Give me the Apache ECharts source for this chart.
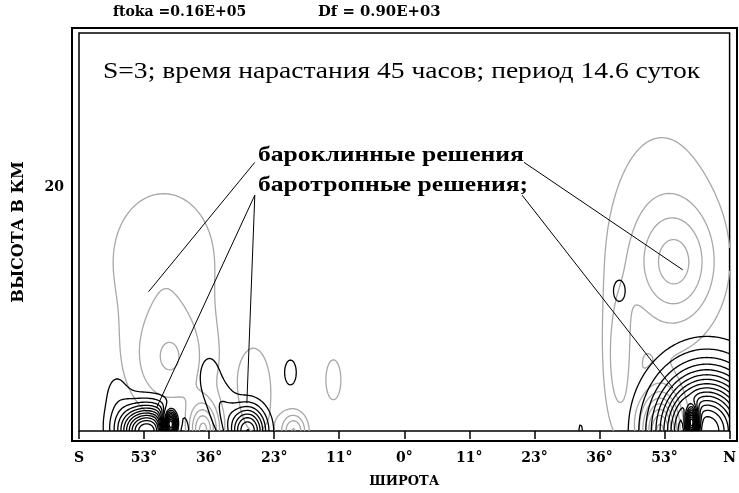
<!DOCTYPE html>
<html>
<head>
<meta charset="utf-8">
<script src="https://cdn.jsdelivr.net/npm/echarts@6/dist/echarts.min.js"></script>
<style>
  html, body { margin: 0; padding: 0; background: #fff; }
  #chart { width: 739px; height: 493px; }
</style>
</head>
<body>
<div id="chart"></div>
<script>
// Latitude axis runs in sin(latitude) from -1 (S) to 1 (N); ticks every 0.2
const latTickLabels = ['S', '53°', '36°', '23°', '11°', '0°', '11°', '23°', '36°', '53°', 'N'];
const heightTicks = [20];

// Streamfunction components: [sin(lat), height km, amplitude, width in sin(lat), width in km]
// Barotropic solution (black isolines)
const barotropicComponents = [
  [-0.792, 0.0, 12, 0.082, 2.0],
  [-0.884, 3.1, 1.2, 0.050, 2.5],
  [-0.720, 0.5, -15, 0.022, 1.1],
  [-0.481, 0.0, 8, 0.055, 2.0],
  [-0.600, 4.5, 1.5, 0.040, 2.2],
  [-0.560, 2.0, 1.6, 0.045, 2.2],
  [-0.350, 4.8, 1.3, 0.035, 2.0],
  [0.661, 11.5, 1.3, 0.035, 1.7],
  [0.930, 0.0, 16, 0.145, 4.66],
  [0.884, 0.65, -14, 0.018, 1.2],
  [0.542, 0.0, 1.5, 0.008, 0.8]
];
// Baroclinic solution (grey isolines)
const baroclinicComponents = [
  [-0.740, 14.1, 1.8, 0.200, 7.0],
  [-0.720, 5.5, 2.7, 0.130, 4.5],
  [-0.618, 0.0, 6, 0.045, 2.2],
  [-0.340, 0.0, 4, 0.040, 1.5],
  [-0.456, 3.1, 1.5, 0.070, 5.0],
  [-0.218, 4.2, 1.3, 0.045, 3.2],
  [0.835, 13.7, 3.0, 0.120, 4.5],
  [0.790, 16.0, 1.6, 0.210, 11.6],
  [0.660, 5.5, 2.2, 0.045, 6.0],
  [0.786, 0.0, 8, 0.060, 3.0]
];
// Isoline step and count on each side of zero
const isolineStep = 1;
const isolineCount = 20;

// Leader lines from the annotations, in (sin(lat), km)
const baroclinicLeaders = [
  [[-0.4595, 22.04], [-0.786, 11.43]],
  [[0.368, 22.04], [0.856, 13.22]]
];
const barotropicLeaders = [
  [[-0.4595, 19.35], [-0.762, 1.88]],
  [[-0.4595, 19.35], [-0.484, 2.29]],
  [[0.362, 19.35], [0.826, 3.51]]
];

const heightMax = 32.65;

// ---- sampling grid ----
const xs = [], ys = [];
for (let i = 0; i <= 400; i++) xs.push(-1 + i * 0.005);
for (let j = 0; j * 0.1 <= heightMax + 1e-9; j++) ys.push(j * 0.1);

function buildField(components) {
  const nx = xs.length, ny = ys.length;
  const f = new Float64Array(nx * ny);
  for (const [cx, cy, a, sx, sy] of components) {
    for (let j = 0; j < ny; j++) {
      const dy = (ys[j] - cy) / sy;
      const ey = dy * dy;
      if (ey > 30) continue;
      for (let i = 0; i < nx; i++) {
        const dx = (xs[i] - cx) / sx;
        const e = dx * dx + ey;
        if (e < 30) f[j * nx + i] += a * Math.exp(-e);
      }
    }
  }
  return f;
}

// marching squares: segments per cell keyed by crossed grid edge
const caseTable = {
  1: [['L', 'B']], 2: [['B', 'R']], 3: [['L', 'R']], 4: [['R', 'T']],
  5: [['L', 'B'], ['R', 'T']], 6: [['B', 'T']], 7: [['L', 'T']], 8: [['T', 'L']],
  9: [['B', 'T']], 10: [['B', 'R'], ['T', 'L']], 11: [['R', 'T']], 12: [['L', 'R']],
  13: [['B', 'R']], 14: [['L', 'B']]
};

function isolines(f, level) {
  const nx = xs.length, ny = ys.length;
  const pts = new Map();
  const adj = new Map();
  const link = (a, b) => {
    if (!adj.has(a)) adj.set(a, []);
    if (!adj.has(b)) adj.set(b, []);
    adj.get(a).push(b);
    adj.get(b).push(a);
  };
  const hEdge = (i, j) => {
    const k = (j * nx + i) * 2;
    if (!pts.has(k)) {
      const v1 = f[j * nx + i], v2 = f[j * nx + i + 1];
      const t = (level - v1) / (v2 - v1);
      pts.set(k, [xs[i] + t * (xs[i + 1] - xs[i]), ys[j]]);
    }
    return k;
  };
  const vEdge = (i, j) => {
    const k = (j * nx + i) * 2 + 1;
    if (!pts.has(k)) {
      const v1 = f[j * nx + i], v2 = f[(j + 1) * nx + i];
      const t = (level - v1) / (v2 - v1);
      pts.set(k, [xs[i], ys[j] + t * (ys[j + 1] - ys[j])]);
    }
    return k;
  };
  for (let j = 0; j < ny - 1; j++) {
    for (let i = 0; i < nx - 1; i++) {
      const v0 = f[j * nx + i], v1 = f[j * nx + i + 1];
      const v2 = f[(j + 1) * nx + i + 1], v3 = f[(j + 1) * nx + i];
      const c = (v0 > level ? 1 : 0) | (v1 > level ? 2 : 0) | (v2 > level ? 4 : 0) | (v3 > level ? 8 : 0);
      if (c === 0 || c === 15) continue;
      const edge = {
        B: () => hEdge(i, j), T: () => hEdge(i, j + 1),
        L: () => vEdge(i, j), R: () => vEdge(i + 1, j)
      };
      for (const [a, b] of caseTable[c]) link(edge[a](), edge[b]());
    }
  }
  const visited = new Set();
  const lines = [];
  const walk = (start) => {
    const line = [pts.get(start)];
    visited.add(start);
    let cur = start;
    for (;;) {
      const nb = adj.get(cur);
      let next = null;
      for (const n of nb) if (!visited.has(n)) { next = n; break; }
      if (next === null) {
        if (nb.includes(start) && line.length > 2) line.push(pts.get(start));
        break;
      }
      visited.add(next);
      line.push(pts.get(next));
      cur = next;
    }
    return line;
  };
  for (const [k, nb] of adj) if (nb.length === 1 && !visited.has(k)) lines.push(walk(k));
  for (const k of adj.keys()) if (!visited.has(k)) lines.push(walk(k));
  return lines;
}

function isolineData(components) {
  const f = buildField(components);
  const out = [];
  for (let n = 1; n <= isolineCount; n++) {
    for (const lv of [n * isolineStep, -n * isolineStep]) {
      for (const l of isolines(f, lv)) if (l.length > 1) out.push({ coords: l });
    }
  }
  return out;
}

const baroclinicLines = isolineData(baroclinicComponents);
const barotropicLines = isolineData(barotropicComponents);

const chart = echarts.init(document.getElementById('chart'), null, { renderer: 'canvas' });

const tickFont = { fontFamily: 'DejaVu Serif', fontWeight: 'bold', fontSize: 14, color: '#000' };

chart.setOption({
  animation: false,
  backgroundColor: '#fff',
  grid: {
    left: 79, right: 4, top: 33, bottom: 60,
    show: true, borderColor: '#000', borderWidth: 1.5, backgroundColor: 'transparent'
  },
  xAxis: {
    type: 'value', min: -1, max: 1, interval: 0.2,
    axisLine: { show: false },
    axisTick: { show: true, length: 8, lineStyle: { color: '#000', width: 1.5 } },
    splitLine: { show: false },
    axisLabel: Object.assign({
      margin: 20,
      formatter: (v) => latTickLabels[Math.round((v + 1) / 0.2)] || ''
    }, tickFont),
    name: 'ШИРОТА',
    nameLocation: 'middle',
    nameGap: 44,
    nameTextStyle: { fontFamily: 'DejaVu Serif', fontWeight: 'bold', fontSize: 13, color: '#000' }
  },
  yAxis: {
    type: 'value', min: 0, max: heightMax, interval: 20,
    axisLine: { show: false },
    axisTick: { show: true, length: 6, customValues: heightTicks, lineStyle: { color: '#000', width: 1.5 } },
    splitLine: { show: false },
    axisLabel: Object.assign({ margin: 15, customValues: heightTicks }, tickFont),
    name: 'ВЫСОТА В КМ',
    nameLocation: 'middle',
    nameRotate: 90,
    nameGap: 52,
    nameTextStyle: { fontFamily: 'DejaVu Serif', fontWeight: 'bold', fontSize: 16, color: '#000' }
  },
  series: [
    {
      name: 'бароклинные решения',
      type: 'lines', coordinateSystem: 'cartesian2d', polyline: true, silent: true,
      data: baroclinicLines,
      lineStyle: { color: '#a8a8a8', width: 1.3, opacity: 1 },
      z: 2
    },
    {
      name: 'баротропные решения',
      type: 'lines', coordinateSystem: 'cartesian2d', polyline: true, silent: true,
      data: barotropicLines,
      lineStyle: { color: '#000', width: 1.3, opacity: 1 },
      z: 3
    },
    {
      name: 'leaders',
      type: 'lines', coordinateSystem: 'cartesian2d', silent: true,
      data: baroclinicLeaders.concat(barotropicLeaders).map(c => ({ coords: c })),
      lineStyle: { color: '#000', width: 1, opacity: 1 },
      z: 4
    }
  ],
  graphic: [
    {
      type: 'rect', silent: true, z: 10,
      shape: { x: 72, y: 28, width: 665, height: 413 },
      style: { fill: 'none', stroke: '#000', lineWidth: 2 }
    },
    {
      type: 'text', x: 113, y: 5, silent: true,
      style: { text: 'ftoka =0.16E+05', font: 'bold 14px "DejaVu Serif"', fill: '#000', textVerticalAlign: 'top' }
    },
    {
      type: 'text', x: 318, y: 5, scaleX: 1.06, silent: true,
      style: { text: 'Df = 0.90E+03', font: 'bold 14px "DejaVu Serif"', fill: '#000', textVerticalAlign: 'top' }
    },
    {
      type: 'text', x: 103, y: 60, scaleX: 1.148, silent: true,
      style: { text: 'S=3; время нарастания 45 часов; период 14.6 суток', font: '24px "Liberation Serif"', fill: '#000', textVerticalAlign: 'top' }
    },
    {
      type: 'text', x: 258, y: 145, scaleX: 1.22, silent: true,
      style: { text: 'бароклинные решения', font: 'bold 21px "Liberation Serif"', fill: '#000', textVerticalAlign: 'top' }
    },
    {
      type: 'text', x: 258, y: 175, scaleX: 1.22, silent: true,
      style: { text: 'баротропные решения;', font: 'bold 21px "Liberation Serif"', fill: '#000', textVerticalAlign: 'top' }
    }
  ]
});
</script>
</body>
</html>
